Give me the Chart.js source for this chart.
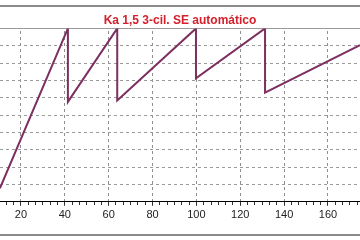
<!DOCTYPE html>
<html>
<head>
<meta charset="utf-8">
<script src="https://cdn.jsdelivr.net/npm/chart.js@4/dist/chart.umd.min.js"></script>
<style>
  html, body { margin: 0; padding: 0; background: #fff; overflow: hidden; }
  #wrap { position: relative; width: 360px; height: 240px; }
  .frame { position: absolute; left: 0; width: 360px; height: 2px; background: #8a8a8a; }
  canvas { position: absolute; left: 0; top: 0; }
</style>
</head>
<body>
<div id="wrap">
  <div class="frame" style="top:5px"></div>
  <div class="frame" style="top:234px"></div>
  <canvas id="chart" width="360" height="240"></canvas>
</div>
<script>
// Données (temps en s, régime en tr/min)
const timeValues = [10.4, 41.4, 41.4, 63.9, 63.9, 99.8, 99.8, 131.3, 131.3, 174.6];
const rpmValues  = [390, 5000, 2880, 5000, 2920, 5000, 3560, 5000, 3150, 4520];
const majorTicks = [20, 40, 60, 80, 100, 120, 140, 160];
const xMin = 10.44, xMax = 174.6;

// Graduations mineures : 6 divisions par pas de 20
const minorTicks = [];
for (let i = 0; i <= 60; i++) {
    const v = i * 20 / 6;
    if (v >= xMin && v <= xMax) minorTicks.push(v);
}

const points = timeValues.map((t, i) => ({ x: t, y: rpmValues[i] }));

// Quadrillage vertical en pointillés, tracé par petits segments
const dashedGrid = {
    id: 'dashedGrid',
    afterDraw(chart) {
        const ctx = chart.ctx;
        const area = chart.chartArea;
        const xs = chart.scales.x;
        ctx.save();
        ctx.globalCompositeOperation = 'destination-over';
        ctx.fillStyle = '#8f8f8f';
        majorTicks.forEach(v => {
            const px = Math.round(xs.getPixelForValue(v) - 0.5);
            for (let y = Math.round(area.top) + 3; y < area.bottom - 1; y += 6) {
                ctx.fillRect(px, y, 1, 3);
            }
        });
        ctx.restore();
    }
};

new Chart(document.getElementById('chart'), {
    type: 'line',
    data: {
        datasets: [{
            data: points,
            borderColor: '#7d2f5f',
            borderWidth: 2,
            pointRadius: 0,
            tension: 0,
            fill: false
        }]
    },
    options: {
        responsive: false,
        animation: false,
        layout: { padding: { left: 0, right: 0, top: 0, bottom: 15 } },
        plugins: {
            legend: { display: false },
            tooltip: { enabled: false },
            title: {
                display: true,
                text: 'Ka 1,5 3-cil. SE automático',
                color: '#d6202c',
                font: { family: 'Arial', size: 12, weight: 'bold' },
                padding: { top: 13, bottom: 1 }
            }
        },
        scales: {
            x: {
                type: 'linear',
                min: xMin,
                max: xMax,
                afterBuildTicks: axis => {
                    axis.ticks = majorTicks.map(v => ({ value: v }));
                },
                ticks: {
                    autoSkip: false,
                    maxRotation: 0,
                    padding: 3,
                    color: '#222',
                    font: { family: 'Arial', size: 11 }
                },
                grid: {
                    drawOnChartArea: false,
                    tickColor: '#333',
                    tickLength: 4
                },
                border: { color: '#000', width: 1 }
            },
            xMinor: {
                type: 'linear',
                position: { y: 0 },
                min: xMin,
                max: xMax,
                afterBuildTicks: axis => {
                    axis.ticks = minorTicks.map(v => ({ value: v }));
                },
                ticks: { display: false },
                grid: { drawOnChartArea: false, tickColor: '#333', tickLength: 3 },
                border: { display: false }
            },
            y: {
                min: 0,
                max: 5000,
                ticks: { display: false, stepSize: 500 },
                grid: { color: '#9a9a9a', drawTicks: false },
                border: {
                    display: false,
                    dash: ctx => (ctx.tick && ctx.tick.value === 5000) ? [] : [3, 3]
                }
            }
        }
    },
    plugins: [dashedGrid]
});
</script>
</body>
</html>
